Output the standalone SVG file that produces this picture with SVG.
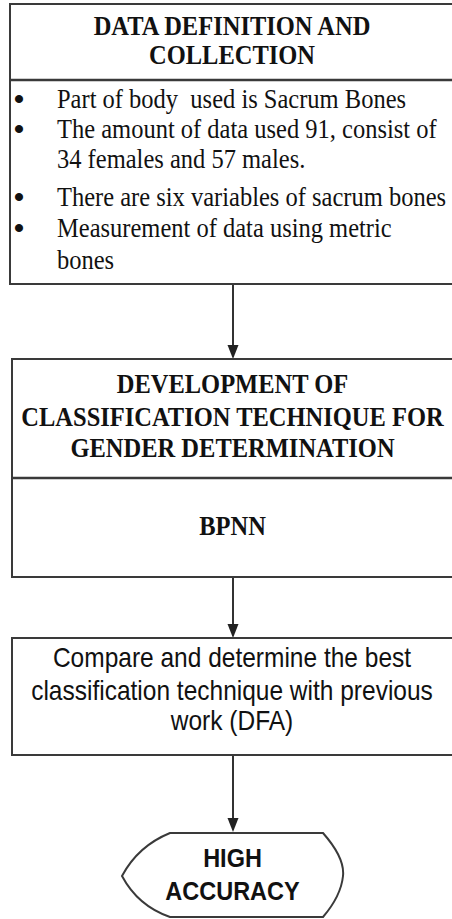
<svg xmlns="http://www.w3.org/2000/svg" width="452" height="919" viewBox="0 0 452 919">
  <style>
    .box { fill: #ffffff; stroke: #3a3a3a; stroke-width: 2; }
    .div { stroke: #3a3a3a; stroke-width: 2.5; }
    .edge { stroke: #333333; stroke-width: 2; fill: none; }
    .head { fill: #222222; }
    .hd { font-family: "Liberation Serif", "Times New Roman", serif; font-weight: bold; font-size: 24.5px; fill: #111111; text-anchor: middle; }
    .bd { font-family: "Liberation Serif", "Times New Roman", serif; font-size: 24.5px; fill: #111111; white-space: pre; }
    .bl { font-family: "Liberation Serif", "Times New Roman", serif; font-weight: bold; font-size: 30px; fill: #111111; text-anchor: middle; }
    .sf { font-family: "Liberation Sans", Arial, sans-serif; font-size: 24.5px; fill: #111111; text-anchor: middle; }
    .sfb { font-family: "Liberation Sans", Arial, sans-serif; font-weight: bold; font-size: 23.5px; fill: #111111; text-anchor: middle; }
  </style>
  <rect width="452" height="919" fill="#ffffff"/>

  <!-- connectors -->
  <g id="connectors">
    <line class="edge" x1="233" y1="284" x2="233" y2="346"/>
    <path class="head" d="M227.5,345 L238.5,345 L233,359 Z"/>
    <line class="edge" x1="233" y1="577" x2="233" y2="625"/>
    <path class="head" d="M227.5,624 L238.5,624 L233,638 Z"/>
    <line class="edge" x1="233" y1="755" x2="233" y2="819"/>
    <path class="head" d="M227.5,818 L238.5,818 L233,832 Z"/>
  </g>

  <!-- data definition and collection -->
  <g id="node-data">
    <rect class="box" x="10" y="4" width="470" height="280"/>
    <line class="div" x1="10" y1="80" x2="480" y2="80"/>
    <text class="hd" transform="translate(232,35) scale(1,1.1)">DATA DEFINITION AND</text>
    <text class="hd" transform="translate(232,64) scale(1,1.1)">COLLECTION</text>
    <text class="bl" x="19" y="109">•</text>
    <text class="bd" transform="translate(57,108) scale(1,1.1)">Part of body  used is Sacrum Bones</text>
    <text class="bl" x="19" y="139">•</text>
    <text class="bd" transform="translate(57,138) scale(1,1.1)">The amount of data used 91, consist of</text>
    <text class="bd" transform="translate(57,168) scale(1,1.1)">34 females and 57 males.</text>
    <text class="bl" x="19" y="207">•</text>
    <text class="bd" transform="translate(57,206) scale(1,1.1)">There are six variables of sacrum bones</text>
    <text class="bl" x="19" y="238">•</text>
    <text class="bd" transform="translate(57,237) scale(1,1.1)">Measurement of data using metric</text>
    <text class="bd" transform="translate(57,269) scale(1,1.1)">bones</text>
  </g>

  <!-- classification technique -->
  <g id="node-technique">
    <rect class="box" x="12" y="359" width="470" height="218"/>
    <line class="div" x1="12" y1="478" x2="482" y2="478"/>
    <text class="hd" transform="translate(232.5,393) scale(1,1.1)">DEVELOPMENT OF</text>
    <text class="hd" transform="translate(232.5,426) scale(1,1.1)">CLASSIFICATION TECHNIQUE FOR</text>
    <text class="hd" transform="translate(232.5,457) scale(1,1.1)">GENDER DETERMINATION</text>
    <text class="hd" transform="translate(232.5,535) scale(1,1.1)">BPNN</text>
  </g>

  <!-- comparison -->
  <g id="node-compare">
    <rect class="box" x="12" y="638" width="470" height="117"/>
    <text class="sf" transform="translate(232,667) scale(1,1.1)">Compare and determine the best</text>
    <text class="sf" transform="translate(232,700) scale(1,1.1)">classification technique with previous</text>
    <text class="sf" transform="translate(232,730) scale(1,1.1)">work (DFA)</text>
  </g>

  <!-- result -->
  <g id="node-result">
    <path class="box" d="M170,833 L323,833 Q345,858 343,876 Q341,896 323,917 L170,917 Q138,906 122,876 Q138,846 170,833 Z"/>
    <text class="sfb" transform="translate(232.5,867) scale(1,1.1)">HIGH</text>
    <text class="sfb" transform="translate(232.5,900) scale(1,1.1)">ACCURACY</text>
  </g>
</svg>
